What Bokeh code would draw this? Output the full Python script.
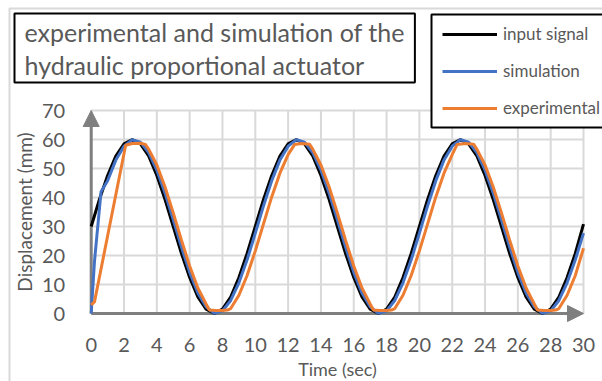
from bokeh.plotting import figure
from bokeh.models import (Range1d, Legend, LegendItem, Label, Arrow, NormalHead,
                          BoxAnnotation, FixedTicker, LinearAxis)
from bokeh.embed import file_html
from bokeh.resources import INLINE

# ---------------- data ----------------
X_MAX = 30
Y_MAX = 70
X_TICKS = [0, 2, 4, 6, 8, 10, 12, 14, 16, 18, 20, 22, 24, 26, 28, 30]
Y_TICKS = [0, 10, 20, 30, 40, 50, 60, 70]

TITLE = "experimental and simulation of the\nhydraulic proportional actuator"
X_LABEL = "Time (sec)"
Y_LABEL = "Displacement (mm)"
SERIES = ["input signal", "simulation", "experimental"]

input_t = [0, 0.5, 1, 1.5, 2, 2.5, 3, 3.5, 4, 4.5, 5, 5.5, 6, 6.5, 7, 7.5, 8, 8.5, 9, 9.5,
           10, 10.5, 11, 11.5, 12, 12.5, 13, 13.5, 14, 14.5, 15, 15.5, 16, 16.5, 17, 17.5, 18, 18.5, 19, 19.5,
           20, 20.5, 21, 21.5, 22, 22.5, 23, 23.5, 24, 24.5, 25, 25.5, 26, 26.5, 27, 27.5, 28, 28.5, 29, 29.5,
           30]
input_y = [30, 39.3, 47.6, 54.3, 58.5, 60, 58.5, 54.3, 47.6, 39.3, 30, 20.7, 12.4, 5.7, 1.5, 0, 1.5, 5.7, 12.4, 20.7,
           30, 39.3, 47.6, 54.3, 58.5, 60, 58.5, 54.3, 47.6, 39.3, 30, 20.7, 12.4, 5.7, 1.5, 0, 1.5, 5.7, 12.4, 20.7,
           30, 39.3, 47.6, 54.3, 58.5, 60, 58.5, 54.3, 47.6, 39.3, 30, 20.7, 12.4, 5.7, 1.5, 0, 1.5, 5.7, 12.4, 20.7,
           30.8]

sim_t = [0, 0.2, 0.6, 1, 1.5, 2, 2.5, 3, 3.5, 4, 4.5, 5, 5.5, 6, 6.5, 7, 7.5, 8, 8.5, 9, 9.5,
         10, 10.5, 11, 11.5, 12, 12.5, 13, 13.5, 14, 14.5, 15, 15.5, 16, 16.5, 17, 17.5, 18, 18.5, 19, 19.5,
         20, 20.5, 21, 21.5, 22, 22.5, 23, 23.5, 24, 24.5, 25, 25.5, 26, 26.5, 27, 27.5, 28, 28.5, 29, 29.5,
         30]
sim_y = [0, 18, 42, 45.8, 52.9, 57.7, 59.9, 59.1, 55.5, 49.4, 41.5, 32.3, 22.9, 14.2, 7.1, 2.3, 0.1, 0.9, 4.5, 10.6, 18.5,
         27.7, 37.1, 45.8, 52.9, 57.7, 59.9, 59.1, 55.5, 49.4, 41.5, 32.3, 22.9, 14.2, 7.1, 2.3, 0.1, 0.9, 4.5, 10.6, 18.5,
         27.7, 37.1, 45.8, 52.9, 57.7, 59.9, 59.1, 55.5, 49.4, 41.5, 32.3, 22.9, 14.2, 7.1, 2.3, 0.1, 0.9, 4.5, 10.6, 18.5,
         27.7]

exp_t = [0, 0.2, 2.1, 2.5, 3.0, 3.3, 3.5, 4, 4.5, 5, 5.5, 6, 6.5, 7, 7.2, 7.6, 8.0, 8.3, 8.5, 9, 9.5,
         10, 10.5, 11, 11.5, 12, 12.4, 12.8, 13.3, 13.5, 14, 14.5, 15, 15.5, 16, 16.5, 17, 17.2, 17.6, 18, 18.3, 18.5, 19, 19.5,
         20, 20.5, 21, 21.5, 22, 22.3, 22.8, 23.3, 23.5, 24, 24.5, 25, 25.5, 26, 26.5, 27, 27.2, 27.6, 28, 28.3, 28.5, 29, 29.5,
         30]
exp_y = [3, 4, 58, 58.6, 58.7, 58.3, 56.7, 51.2, 43.6, 34.7, 25.3, 16.4, 8.8, 3.3, 1.2, 1, 1, 1.2, 1.7, 6.3, 13.1,
         21.6, 30.9, 40.2, 48.4, 54.8, 58.3, 58.6, 58.4, 56.7, 51.2, 43.6, 34.7, 25.3, 16.4, 8.8, 3.3, 1.2, 1, 1, 1.2, 1.7, 6.3, 13.1,
         21.6, 30.9, 40.2, 48.4, 54.8, 58.3, 58.6, 58.4, 56.7, 51.2, 43.6, 34.7, 25.3, 16.4, 8.8, 3.3, 1.2, 1, 1, 1.2, 1.7, 6.3, 13.1,
         22.5]

# ---------------- layout / styling ----------------
FONT = "Lato"
TEXT_GRAY = "#595959"
AXIS_GRAY = "#7f7f7f"
GRID_GRAY = "#d9d9d9"
COLORS = ["black", "#4472C4", "#ED7D31"]

FIG_W, FIG_H = 602, 381
# canvas pixel positions of the data corners (x=0 / x=X_MAX, y=0 / y=Y_MAX)
PX_X0, PX_X1 = 90.7, 583.0
PX_Y0, PX_Y1 = 313.0, 110.0
kx = (PX_X1 - PX_X0) / X_MAX
ky = (PX_Y0 - PX_Y1) / Y_MAX
x_range = Range1d(-PX_X0 / kx, X_MAX + (FIG_W - PX_X1) / kx)
y_range = Range1d(-(FIG_H - PX_Y0) / ky, Y_MAX + PX_Y1 / ky)


def px_x(px):
    return x_range.start + px / kx


def px_y(py):
    return y_range.end - py / ky


p = figure(width=FIG_W, height=FIG_H, output_backend="svg", toolbar_location=None,
           x_range=x_range, y_range=y_range, x_axis_type=None, y_axis_type=None,
           min_border=0, background_fill_color="white", border_fill_color="white")
p.outline_line_color = None
p.grid.visible = False

# chart-area border (light gray, top-left corner at ~(9, 8) px)
outer = BoxAnnotation(left=px_x(9), right=px_x(FIG_W + 20), top=px_y(8), bottom=px_y(FIG_H + 20),
                      fill_color=None, fill_alpha=0, line_color=GRID_GRAY, line_alpha=1, line_width=2,
                      level="underlay")
p.add_layout(outer)

# grid lines limited to the data rectangle
p.segment(x0=X_TICKS, y0=[0] * len(X_TICKS), x1=X_TICKS, y1=[Y_MAX] * len(X_TICKS),
          line_color=GRID_GRAY, line_width=2, level="underlay")
p.segment(x0=[0] * len(Y_TICKS), y0=Y_TICKS, x1=[X_MAX] * len(Y_TICKS), y1=Y_TICKS,
          line_color=GRID_GRAY, line_width=2, level="underlay")

# axes (tick labels + titles) anchored at 0
xaxis = LinearAxis(fixed_location=0, bounds=(0, X_MAX), ticker=FixedTicker(ticks=X_TICKS))
yaxis = LinearAxis(fixed_location=0, bounds=(0, Y_MAX), ticker=FixedTicker(ticks=Y_TICKS))
for ax in (xaxis, yaxis):
    ax.axis_line_color = None
    ax.major_tick_line_color = None
    ax.minor_tick_line_color = None
    ax.major_label_text_font = FONT
    ax.major_label_text_font_size = "20px"
    ax.major_label_text_color = TEXT_GRAY
    ax.axis_label_text_font = FONT
    ax.axis_label_text_font_style = "normal"
    ax.axis_label_text_color = TEXT_GRAY
xaxis.major_label_standoff = 18
yaxis.major_label_standoff = 20
xaxis.axis_label = X_LABEL
xaxis.axis_label_text_font_size = "18px"
xaxis.axis_label_standoff = 3
yaxis.axis_label = Y_LABEL
yaxis.axis_label_text_font_size = "19px"
yaxis.axis_label_standoff = 3
p.add_layout(xaxis, "below")
p.add_layout(yaxis, "left")

# axis lines with arrow heads
p.add_layout(Arrow(x_start=0, y_start=0, x_end=X_MAX, y_end=0, line_color=AXIS_GRAY, line_width=3,
                   end=NormalHead(size=16, fill_color=AXIS_GRAY, line_color=AXIS_GRAY), level="underlay"))
p.add_layout(Arrow(x_start=0, y_start=0, x_end=0, y_end=Y_MAX, line_color=AXIS_GRAY, line_width=3,
                   end=NormalHead(size=16, fill_color=AXIS_GRAY, line_color=AXIS_GRAY), level="underlay"))

r_in = p.line(input_t, input_y, line_color=COLORS[0], line_width=3)
r_sim = p.line(sim_t, sim_y, line_color=COLORS[1], line_width=3)
r_exp = p.line(exp_t, exp_y, line_color=COLORS[2], line_width=3)

# legend frame (runs past the right edge of the picture, as in the original)
legend_box = BoxAnnotation(left=px_x(431), right=px_x(FIG_W + 30), top=px_y(14), bottom=px_y(127),
                           fill_color="white", fill_alpha=1, line_color="black", line_alpha=1,
                           line_width=2)
p.add_layout(legend_box)

legend = Legend(items=[LegendItem(label=SERIES[0], renderers=[r_in]),
                       LegendItem(label=SERIES[1], renderers=[r_sim]),
                       LegendItem(label=SERIES[2], renderers=[r_exp])],
                location=(442, FIG_H - 118), border_line_color=None,
                padding=7, spacing=16, label_height=20, glyph_height=20, glyph_width=55,
                label_standoff=6, margin=0,
                label_text_font=FONT, label_text_font_size="17px", label_text_color=TEXT_GRAY,
                background_fill_color="white", background_fill_alpha=0)
p.add_layout(legend)

title_box = Label(x=14, y=FIG_H - 13, x_units="screen", y_units="screen", text=TITLE,
                  text_font=FONT, text_font_size="25px", text_color=TEXT_GRAY,
                  text_align="left", text_baseline="top", anchor="top_left", text_line_height=1.1,
                  border_line_color="black", border_line_width=2,
                  background_fill_color="white", padding=(10, 3))
p.add_layout(title_box)

open("out.html", "w").write(file_html(p, INLINE))
